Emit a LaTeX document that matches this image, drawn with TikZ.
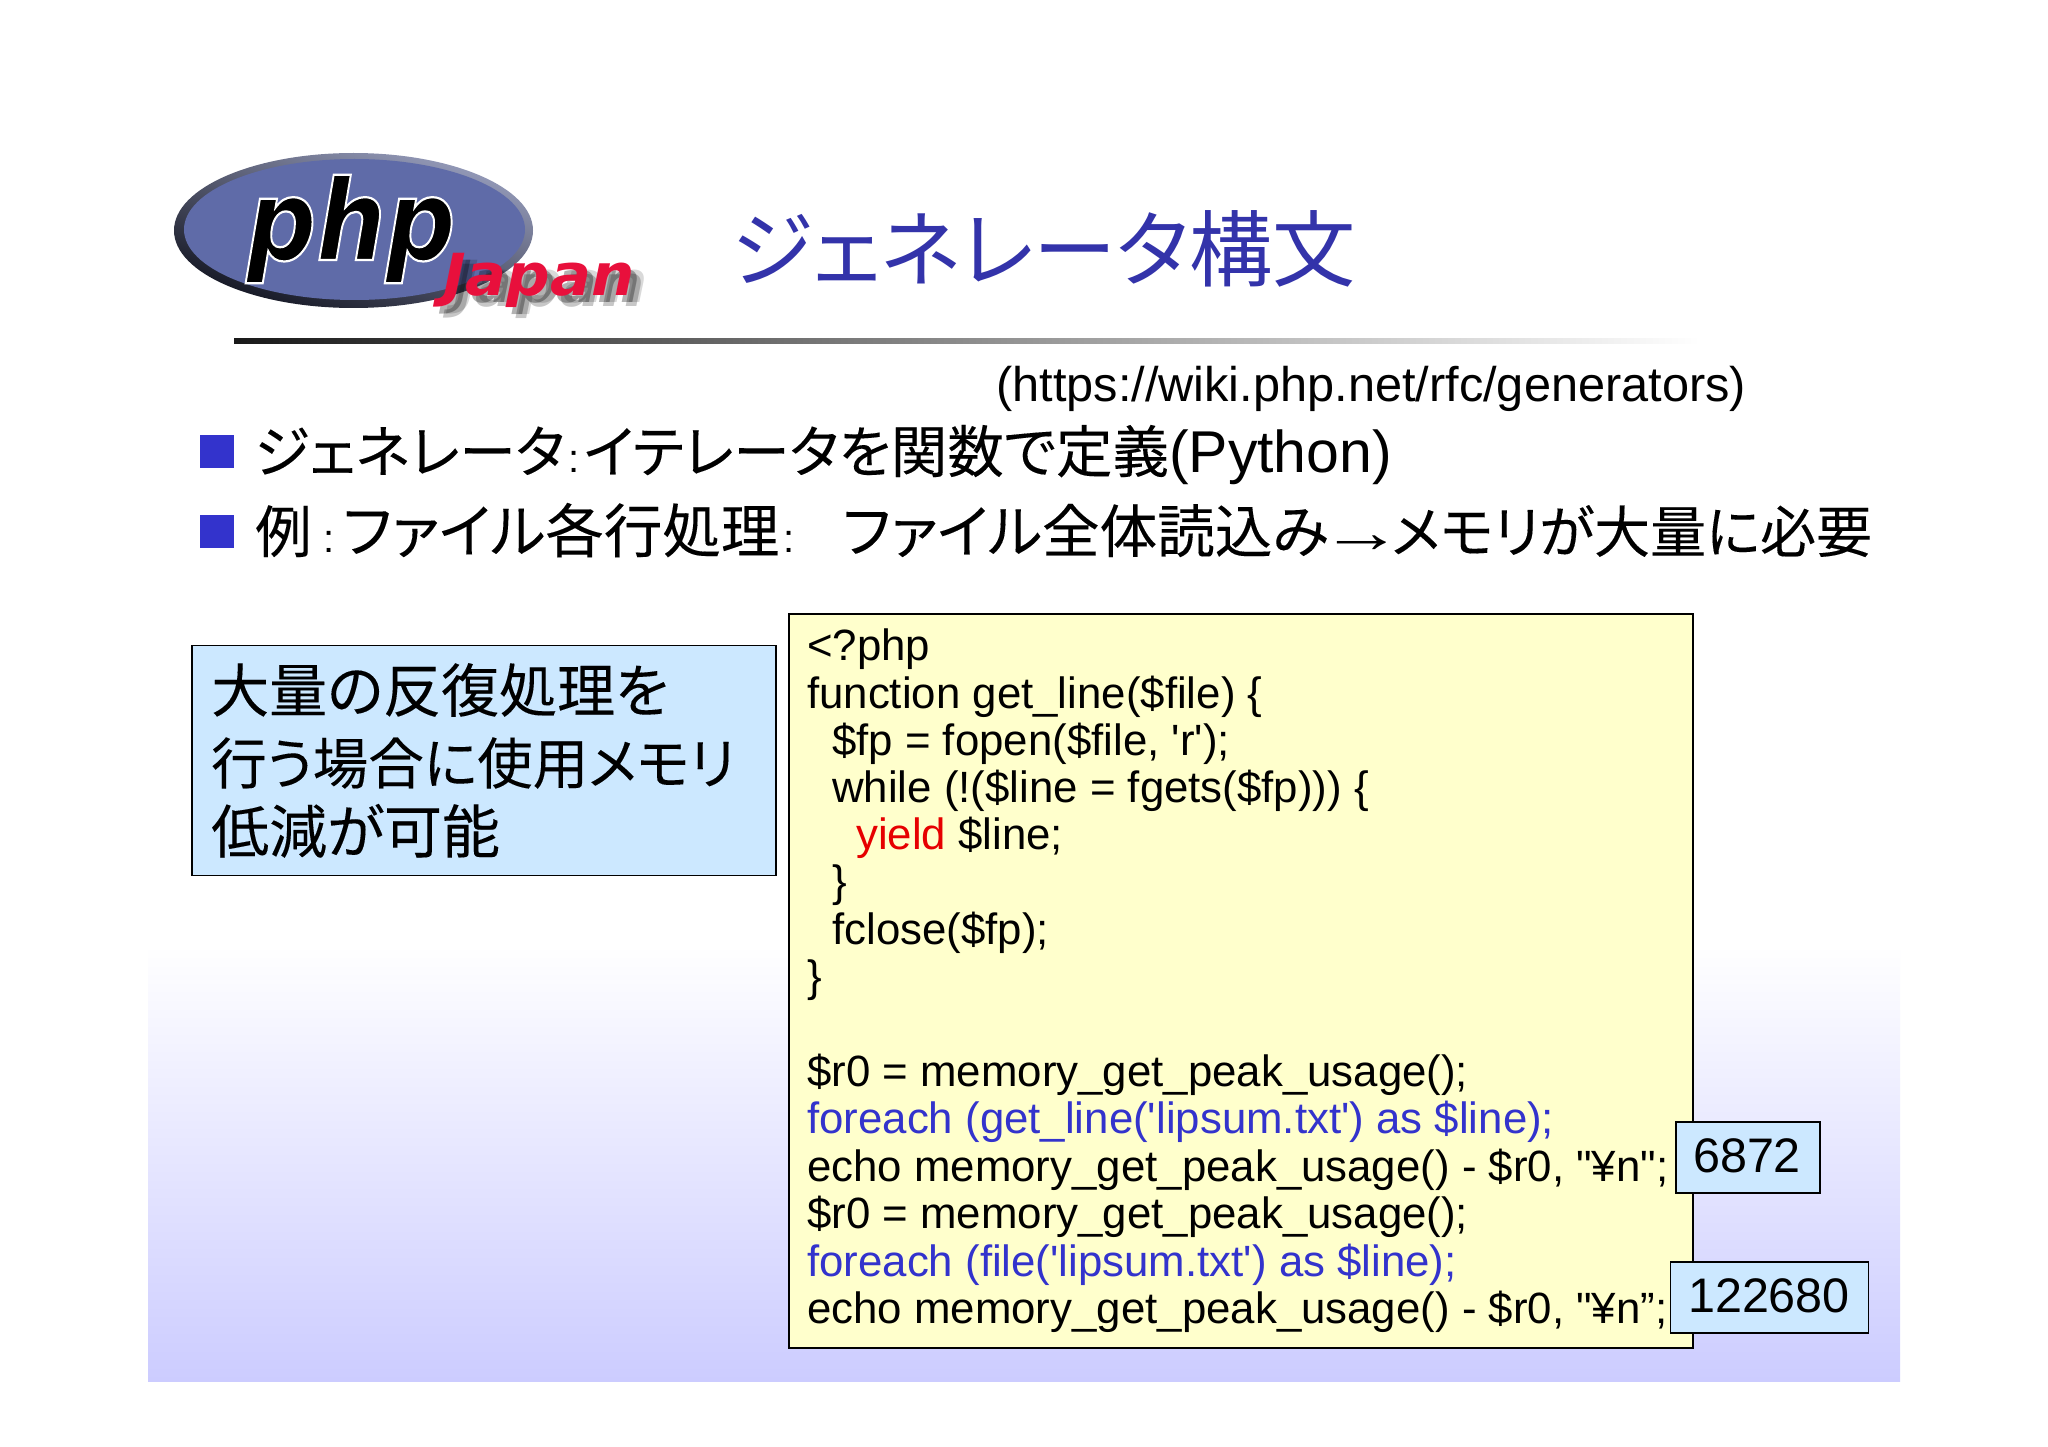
\documentclass[tikz,border=0pt]{standalone}
\usepackage{graphicx}
\usepackage{fontspec}
\setmainfont{Liberation Sans}[Ligatures=TeXOff]
\newfontfamily\cjk{Noto Sans CJK JP}[RawFeature=+palt,FakeBold=0.15]
\newfontfamily\cjktitle{Noto Sans CJK JP}[RawFeature=+palt]
\newfontfamily\logofont{DejaVu Sans}
\usetikzlibrary{shadings}
\definecolor{titleblue}{HTML}{3333AA}
\definecolor{bulletblue}{HTML}{3333CC}
\definecolor{codeblue}{HTML}{3333CC}
\definecolor{codered}{HTML}{E60000}
\definecolor{boxblue}{HTML}{CCE8FF}
\definecolor{boxyellow}{HTML}{FFFFCC}
\definecolor{bandblue}{HTML}{CCCCFF}
\definecolor{logoblue}{HTML}{5F6BA8}
\definecolor{logored}{HTML}{E8103C}
\newcommand{\cj}[2][56.5]{{\cjk\fontsize{#1}{60}\selectfont #2}}
\newcommand{\sepcolon}{\hspace{4pt}{\fontsize{40}{44}\selectfont :}\hspace{4pt}}
\tikzset{
  codeline/.style={anchor=base west,inner sep=0pt,font=\fontsize{43.8}{48}\selectfont,text=black},
  numline/.style={anchor=center,inner sep=0pt,font=\fontsize{48.5}{54}\selectfont,text=black},
  bulletline/.style={anchor=base west,inner sep=0pt,font=\fontsize{59}{62}\selectfont,text=black},
  noteline/.style={anchor=base west,inner sep=0pt,text=black},
  bulletsq/.style={fill=bulletblue,draw=none,minimum width=34pt,minimum height=33pt,inner sep=0pt},
  panel/.style={draw=black,line width=1.4pt,inner sep=0pt},
  phptext/.style={inner sep=0pt,font=\logofont\bfseries\itshape\fontsize{112}{116}\selectfont},
  japantext/.style={inner sep=0pt,font=\logofont\bfseries\itshape\fontsize{58}{62}\selectfont},
}
\begin{document}
\begin{tikzpicture}[x=1pt,y=-1pt]
\useasboundingbox (0,0) rectangle (2048,1447);
\fill[white] (0,0) rectangle (2048,1447);
% background band
\shade[top color=white,bottom color=bandblue,draw=none] (148,945) rectangle (1900,1381);
% logo
\shade[left color=black!15!logoblue!60!white,right color=black!80!logoblue,shading angle=-20,draw=none] (353.5,230.5) ellipse [x radius=179.5,y radius=77.5];
\fill[logoblue] (354.5,229.5) ellipse [x radius=170.5,y radius=70.5];
\node[phptext,text=black] (php) at (351,229) {\scalebox{0.87}[1]{\special{pdf:code 2 Tr 1 1 1 RG 2.2 w}php\special{pdf:code 0 Tr 0 0 0 RG 1 w}}};
\foreach \dx/\dy/\op in {10/11/.22,6/7/.3,13/7/.15}{
  \node[japantext,text=black,opacity=\op] at (539+\dx,280+\dy) {\scalebox{1.05}[1]{Japan}};
}
\node[japantext,text=logored] (japan) at (539,280) {\scalebox{1.05}[1]{Japan}};
% title and rule
\node[anchor=base west,inner sep=0pt,font=\cjktitle\fontsize{83.3}{88}\selectfont,text=titleblue] (title) at (731,281) {ジェネレータ構文};
\shade[left color=black!90,right color=white,draw=none] (234,338) rectangle (1700,343);
% url
\node[anchor=base west,inner sep=0pt,font=\fontsize{48.7}{52}\selectfont] (url) at (996,401) {(https://wiki.php.net/rfc/generators)};
% bullets
\node[bulletsq] (b1) at (217,451) {};
\node[bulletsq] (b2) at (217,531) {};
\node[bulletline] (t1) at (254,472.5) {\cj{ジェネレータ}\sepcolon\cj{イテレータを関数で定義}(Python)};
\node[bulletline] (t2) at (255,552.5) {\cj{例}\hspace{8pt}\sepcolon\hspace{4pt}\cj[58.5]{ファイル各行処理}\sepcolon\hspace{44pt}\cj[57.6]{ファイル全体読込み}\hspace{-8pt}\scalebox{1.4}[1]{→}\hspace{-12pt}\cj[56]{メモリが大量に必要}};
% left note
\node[panel,fill=boxblue,minimum width=584pt,minimum height=230pt] (note) at (484,760.5) {};
\node[noteline,font=\cjk\fontsize{58}{60}\selectfont] (n1) at (211,712) {大量の反復処理を};
\node[noteline,font=\cjk\fontsize{55.5}{60}\selectfont] (n2) at (211,784) {行う場合に使用メモリ};
\node[noteline,font=\cjk\fontsize{58}{60}\selectfont] (n3) at (211,853) {低減が可能};
% code
\node[panel,fill=boxyellow,minimum width=904pt,minimum height=734pt] (code) at (1241,981) {};
\node[codeline] (c1) at (807,660) {<?php};
\node[codeline] (c2) at (807,708) {function get\_line(\$file) \{};
\node[codeline] (c3) at (832,755) {\$fp = fopen(\$file, 'r');};
\node[codeline] (c4) at (832,802) {while (!(\$line = fgets(\$fp))) \{};
\node[codeline] (c5) at (856,849) {\textcolor{codered}{yield} \$line;};
\node[codeline] (c6) at (832,896) {\}};
\node[codeline] (c7) at (832,944) {fclose(\$fp);};
\node[codeline] (c8) at (807,991) {\}};
\node[codeline] (c9) at (807,1086.5) {\$r0 = memory\_get\_peak\_usage();};
\node[codeline,text=codeblue] (c10) at (807,1133.5) {foreach (get\_line('lipsum.txt') as \$line);};
\node[codeline] (c11) at (807,1181) {echo memory\_get\_peak\_usage() - \$r0, "¥n";};
\node[codeline] (c12) at (807,1228.5) {\$r0 = memory\_get\_peak\_usage();};
\node[codeline,text=codeblue] (c13) at (807,1276) {foreach (file('lipsum.txt') as \$line);};
\node[codeline] (c14) at (807,1323) {echo memory\_get\_peak\_usage() - \$r0, "¥n”;};
% result boxes
\node[panel,fill=boxblue,minimum width=144pt,minimum height=71pt] (r1) at (1748,1157.5) {};
\node[numline] (r1t) at (1747,1156) {6872};
\node[panel,fill=boxblue,minimum width=198pt,minimum height=71pt] (r2) at (1769.5,1297.5) {};
\node[numline] (r2t) at (1769,1296) {122680};
\end{tikzpicture}
\end{document}
